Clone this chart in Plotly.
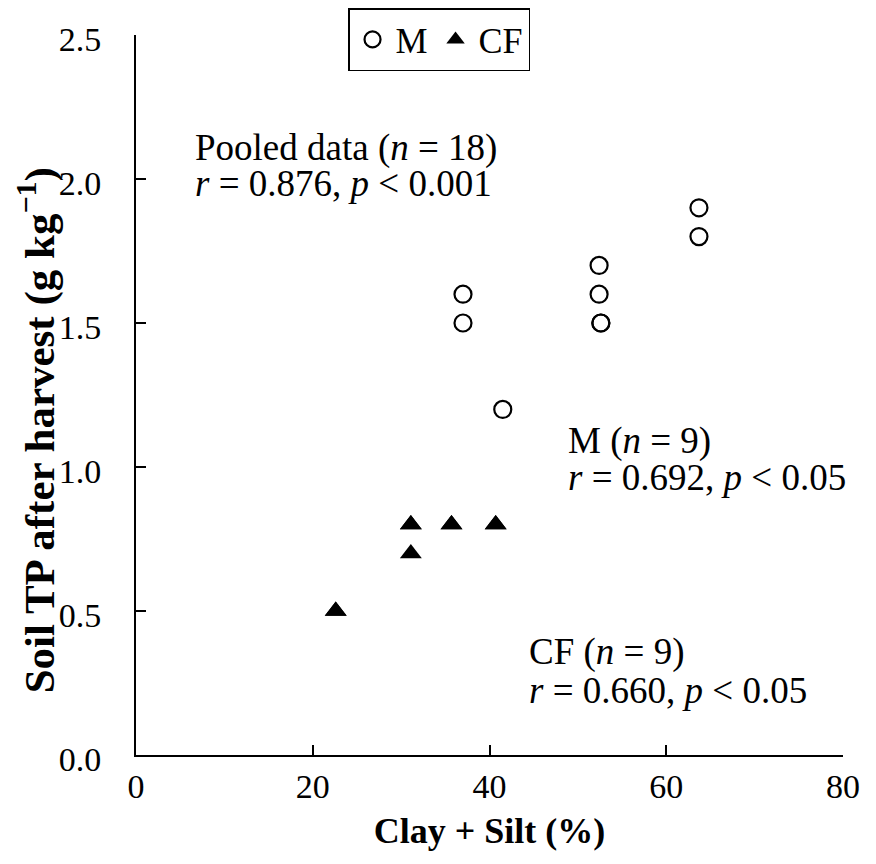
import plotly.graph_objects as go

# Data
m_x = [37.0, 37.0, 41.5, 52.4, 52.4, 52.6, 52.6, 63.7, 63.7]
m_y = [1.6, 1.5, 1.2, 1.7, 1.6, 1.5, 1.5, 1.9, 1.8]
cf_x = [22.6, 22.6, 31.1, 31.1, 31.1, 35.7, 35.7, 40.7, 40.7]
cf_y = [0.5, 0.5, 0.8, 0.8, 0.7, 0.8, 0.8, 0.8, 0.8]

x_ticks = [0, 20, 40, 60, 80]
y_ticks = [0.0, 0.5, 1.0, 1.5, 2.0, 2.5]

x_title = "<b>Clay + Silt (%)</b>"
y_title = "<b>Soil TP after harvest (g kg<sup>−1</sup>)</b>"

# text lines: (x, y, text)
notes = [
    (6.4, 2.108, "Pooled data (<i>n</i> = 18)"),
    (6.4, 1.983, "<i>r</i> = 0.876, <i>p</i> &lt; 0.001"),
    (48.6, 1.092, "M (<i>n</i> = 9)"),
    (48.6, 0.963, "<i>r</i> = 0.692, <i>p</i> &lt; 0.05"),
    (44.2, 0.356, "CF (<i>n</i> = 9)"),
    (44.2, 0.224, "<i>r</i> = 0.660, <i>p</i> &lt; 0.05"),
]

FONT = "Liberation Serif, Times New Roman, serif"

fig = go.Figure()
fig.add_trace(go.Scatter(
    x=m_x, y=m_y, mode="markers", name="M",
    marker=dict(symbol="circle-open", size=17, color="black", line=dict(width=2.2, color="black")),
))
fig.add_trace(go.Scatter(
    x=cf_x, y=cf_y, mode="markers", name="CF",
    marker=dict(symbol="triangle-up", size=19, color="black"),
))

ann_font = dict(family=FONT, size=37, color="black")
for nx, ny, nt in notes:
    fig.add_annotation(x=nx, y=ny, xref="x", yref="y", xanchor="left", yanchor="middle", align="left",
                       showarrow=False, font=ann_font, text=nt)

# y-axis title (placed slightly below the axis centre, as in the reference)
fig.add_annotation(x=-0.141, y=0.435, xref="paper", yref="paper", xanchor="center", yanchor="middle",
                   textangle=-90, showarrow=False, text=y_title,
                   font=dict(family=FONT, size=43, color="black"))

fig.update_layout(
    template="none",
    width=860, height=848,
    margin=dict(l=128, r=25, t=0, b=101, pad=0),
    paper_bgcolor="white", plot_bgcolor="white",
    font=dict(family=FONT, size=32, color="black"),
    showlegend=True,
    legend=dict(orientation="h", x=0.2999, y=1.0, xanchor="left", yanchor="top",
                bordercolor="black", borderwidth=1.5, bgcolor="white",
                font=dict(family=FONT, size=36, color="black"),
                itemwidth=36, tracegroupgap=0),
    xaxis=dict(range=[0, 80], tickvals=x_ticks, ticktext=[str(v) for v in x_ticks],
               automargin=False,
               showline=True, linecolor="black", linewidth=2, ticks="inside", ticklen=10,
               tickwidth=2, tickcolor="black", showgrid=False, zeroline=False,
               title=dict(text=x_title, font=dict(family=FONT, size=36), standoff=14),
               tickfont=dict(family=FONT, size=34)),
    yaxis=dict(range=[0, 2.5], domain=[0, 720 / 747], tickvals=y_ticks,
               ticktext=[f"{v:.1f}" for v in y_ticks],
               automargin=False,
               showline=True, linecolor="black", linewidth=2, ticks="inside", ticklen=10,
               tickwidth=2, tickcolor="black", showgrid=False, zeroline=False,
               ticklabelstandoff=26, ticklabelshift=4,
               tickfont=dict(family=FONT, size=34)),
)

fig.write_html("out.html")
